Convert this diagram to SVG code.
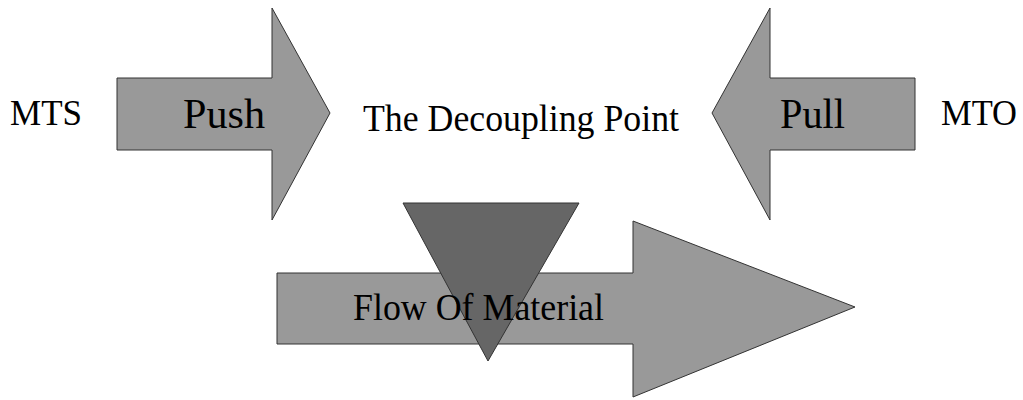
<svg xmlns="http://www.w3.org/2000/svg" width="1023" height="400" viewBox="0 0 1023 400">
<style>
.arrow{fill:#999999;stroke:#333333;stroke-width:1}
.tri{fill:#666666;stroke:#333333;stroke-width:1}
text{font-family:"Liberation Serif","Times New Roman",serif;fill:#000}
</style>
<rect width="1023" height="400" fill="#ffffff"/>
<g id="mts"><text x="10" y="125" font-size="35" textLength="72" lengthAdjust="spacingAndGlyphs">MTS</text></g>
<g id="push">
<polygon class="arrow" points="117,78 272,78 272,8 330,113 272,220 272,150 117,150"/>
<text x="183" y="128" font-size="43" textLength="82" lengthAdjust="spacingAndGlyphs">Push</text>
</g>
<g id="decoupling"><text x="363" y="131" font-size="38" textLength="316" lengthAdjust="spacingAndGlyphs">The Decoupling Point</text></g>
<g id="pull">
<polygon class="arrow" points="915,78 770,78 770,8 712,113 770,220 770,150 915,150"/>
<text x="780" y="128" font-size="43" textLength="65" lengthAdjust="spacingAndGlyphs">Pull</text>
</g>
<g id="mto"><text x="941" y="125" font-size="35" textLength="76" lengthAdjust="spacingAndGlyphs">MTO</text></g>
<g id="flow">
<polygon class="arrow" points="277,273 633,273 633,221 855,307 633,397 633,344 277,344"/>
</g>
<g id="decoupling-marker">
<polygon class="tri" points="403,203 579,203 488,361"/>
</g>
<g id="flow-label"><text x="353" y="320" font-size="37" textLength="251" lengthAdjust="spacingAndGlyphs">Flow Of Material</text></g>
<g id="connectors"></g>
</svg>
